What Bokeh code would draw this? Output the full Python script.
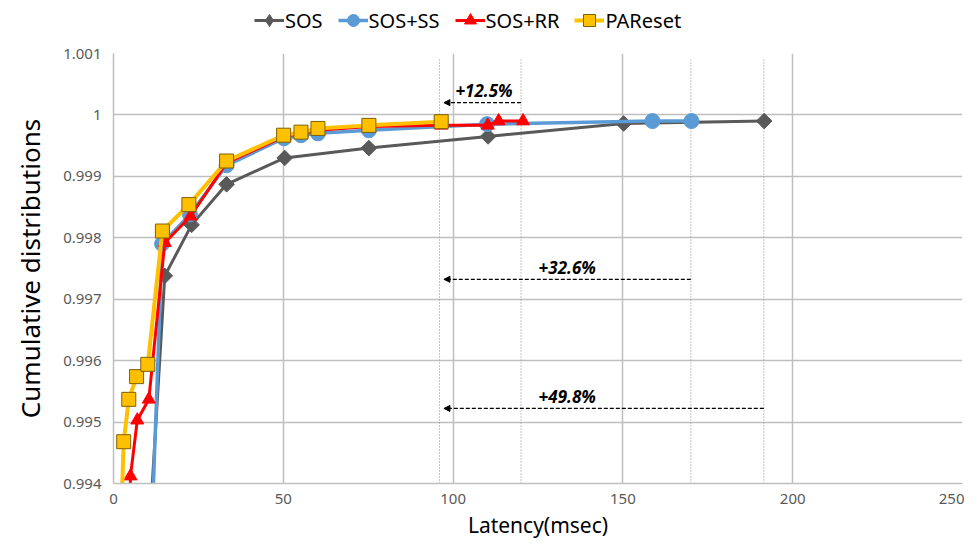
import numpy as np
from bokeh.plotting import figure
from bokeh.layouts import column
from bokeh.models import (Range1d, FixedTicker, Legend, LegendItem, Arrow, NormalHead,
                          ColumnDataSource, Label)
from bokeh.embed import file_html
from bokeh.resources import INLINE

# ---- data ----
sos_x = [9.8, 15.1, 23.0, 33.3, 50.4, 75.2, 110.3, 150.2, 191.6]
sos_y = [0.9925, 0.99738, 0.99821, 0.99887, 0.99930, 0.99946, 0.99965, 0.99986, 0.99990]

ss_x = [10.8, 14.3, 22.5, 33.3, 50.2, 55.2, 60.2, 75.2, 110.0, 158.7, 170.2]
ss_y = [0.9925, 0.99790, 0.99838, 0.99918, 0.99962, 0.99967, 0.99970, 0.99975, 0.99985, 0.99990, 0.99990]

rr_x = [4.8, 5.0, 7.0, 10.4, 15.1, 22.7, 33.3, 50.2, 55.2, 60.2, 75.2, 96.5, 110.2, 113.4, 120.6]
rr_y = [0.9935, 0.99412, 0.99503, 0.99537, 0.99792, 0.99835, 0.99922, 0.99965, 0.99970,
        0.99975, 0.99981, 0.99983, 0.99983, 0.99990, 0.99990]

pa_x = [2.3, 3.0, 4.5, 6.8, 10.1, 14.4, 22.2, 33.3, 50.1, 55.2, 60.2, 75.2, 96.5]
pa_y = [0.9935, 0.99468, 0.99537, 0.99574, 0.99594, 0.99811, 0.99854, 0.99925, 0.99967,
        0.99972, 0.99978, 0.99983, 0.99989]

series_names = ["SOS", "SOS+SS", "SOS+RR", "PAReset"]

x_ticks = [0, 50, 100, 150, 200, 250]
y_ticks = [0.994, 0.995, 0.996, 0.997, 0.998, 0.999, 1.0, 1.001]
y_tick_labels = ["0.994", "0.995", "0.996", "0.997", "0.998", "0.999", "1", "1.001"]

ref_x = [96.0, 120.0, 170.0, 191.5]          # dotted reference lines
arrow_start_x = [120.0, 170.0, 191.5]
arrow_end_x = [97.3, 97.3, 97.3]
arrow_y = [1.0002, 0.997324, 0.995222]
gain_labels = ["+12.5%", "+32.6%", "+49.8%"]
gain_label_x = [109.1, 133.6, 133.6]
gain_label_y = [1.00039, 0.99752, 0.99541]

FONT = "Noto Sans"
LEG_H = 38

p = figure(width=964, height=541 - LEG_H, output_backend="svg", toolbar_location=None,
           x_range=Range1d(0, 250), y_range=Range1d(0.994, 1.001),
           min_border_left=113, min_border_right=2, min_border_top=53 - LEG_H,
           min_border_bottom=52)
p.outline_line_color = None
p.background_fill_color = "white"
p.border_fill_color = "white"

for ax in (p.xaxis[0], p.yaxis[0]):
    ax.major_tick_line_color = None
    ax.minor_tick_line_color = None
    ax.major_tick_out = 0
    ax.major_tick_in = 0
    ax.minor_tick_out = 0
    ax.minor_tick_in = 0
    ax.axis_line_color = "#BFBFBF"
    ax.axis_line_width = 1.5
    ax.major_label_text_font = FONT
    ax.major_label_text_font_size = "15px"
    ax.major_label_text_color = "#595959"
    ax.axis_label_text_font = FONT
    ax.axis_label_text_font_style = "normal"
    ax.axis_label_text_color = "#000000"

p.xaxis.ticker = FixedTicker(ticks=x_ticks)
p.yaxis.ticker = FixedTicker(ticks=y_ticks)
p.yaxis.major_label_overrides = {t: l for t, l in zip(y_ticks, y_tick_labels)}
p.xaxis.major_label_standoff = 10
p.yaxis.major_label_standoff = 12
p.xaxis.axis_label = "Latency(msec)"
p.xaxis.axis_label_text_font_size = "21px"
p.xaxis.axis_label_standoff = 4
p.yaxis.axis_label = "Cumulative distributions"
p.yaxis.axis_label_text_font_size = "26px"
p.yaxis.axis_label_standoff = 12

p.xgrid.ticker = FixedTicker(ticks=x_ticks)
p.ygrid.ticker = FixedTicker(ticks=y_ticks)
p.grid.grid_line_color = "#BFBFBF"
p.grid.grid_line_width = 1.5

# dotted reference verticals
p.segment(x0=ref_x, y0=[0.994] * len(ref_x), x1=ref_x, y1=[1.0009] * len(ref_x),
          line_color="#8C8C8C", line_width=1, line_dash="1 2")

# legend-only strip above the chart (its glyph sources sit outside its ranges)
lg = figure(width=964, height=LEG_H, output_backend="svg", toolbar_location=None,
            x_range=Range1d(0, 1), y_range=Range1d(0, 1),
            x_axis_type=None, y_axis_type=None,
            min_border_left=0, min_border_right=0, min_border_top=0, min_border_bottom=0)
lg.outline_line_color = None
lg.grid.visible = False

# series
colors = ["#595959", "#5B9BD5", "#FF0000", "#FFC000"]
xs = [sos_x, ss_x, rr_x, pa_x]
ys = [sos_y, ss_y, rr_y, pa_y]
widths = [3, 3.5, 3, 4]
items = []
for i in range(4):
    src = ColumnDataSource(dict(x=xs[i], y=ys[i]))
    key = ColumnDataSource(dict(x=xs[i][-2:], y=ys[i][-2:]))
    ln = p.line("x", "y", source=src, line_color=colors[i], line_width=widths[i])
    lln = lg.line("x", "y", source=key, line_color=colors[i], line_width=widths[i])
    if i == 0:
        kw = dict(marker="square", angle=np.pi / 4, size=11,
                  fill_color=colors[i], line_color=colors[i])
        lkw = dict(marker="diamond", size=16, fill_color=colors[i], line_color=colors[i])
    elif i == 1:
        kw = dict(marker="circle", size=15, fill_color=colors[i], line_color=colors[i])
        lkw = kw
    elif i == 2:
        kw = dict(marker="triangle", size=13, fill_color=colors[i], line_color=colors[i])
        lkw = kw
    else:
        kw = dict(marker="square", size=14, fill_color=colors[i],
                  line_color="#7F6000", line_width=1)
        lkw = kw
    p.scatter("x", "y", source=src, **kw)
    lmk = lg.scatter("x", "y", source=key, **lkw)
    items.append(LegendItem(label=series_names[i], renderers=[lln, lmk]))

# arrows and gain labels
for i in range(3):
    p.add_layout(Arrow(x_start=arrow_start_x[i], y_start=arrow_y[i],
                       x_end=arrow_end_x[i], y_end=arrow_y[i],
                       line_color="black", line_width=1.3, line_dash="4 2",
                       end=NormalHead(size=6, fill_color="black", line_color="black")))
    p.add_layout(Label(x=gain_label_x[i], y=gain_label_y[i], text=gain_labels[i],
                       text_font=FONT, text_font_size="17px", text_font_style="bold italic",
                       text_align="center", text_baseline="middle", text_color="black"))

legend = Legend(items=items, orientation="horizontal", location=(141, 1),
                label_text_font=FONT, label_text_font_size="20px", label_text_color="#000000",
                glyph_width=30, glyph_height=34, label_height=24, label_standoff=1,
                spacing=15, padding=1, margin=0,
                border_line_color=None, background_fill_alpha=0)
lg.add_layout(legend, "center")

layout = column(lg, p, spacing=0)
open("out.html", "w").write(file_html(layout, INLINE))
